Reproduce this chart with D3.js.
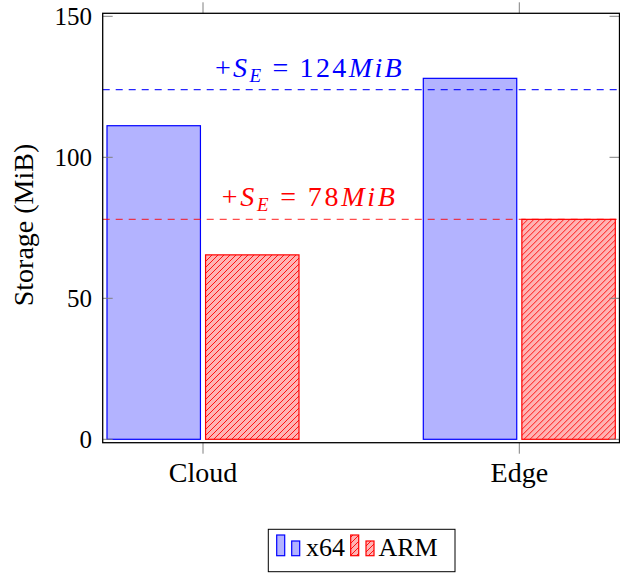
<!DOCTYPE html>
<html>
<head>
<meta charset="utf-8">
<script src="https://cdn.jsdelivr.net/npm/d3@7"></script>
<style>
  html, body { margin: 0; padding: 0; background: #fff; }
  svg { display: block; }
</style>
</head>
<body>
<svg id="chart" width="620" height="573"></svg>
<script>
// Storage footprint per deployment target and architecture
const categories = ["Cloud", "Edge"];
const series = ["x64", "ARM"];
const x64Values = [111.2, 128];
const armValues = [65.4, 78];
const yTicks = [0, 50, 100, 150];
const refLines = [
  { series: "x64", value: 124, label: "124", width: 186.7 },
  { series: "ARM", value: 78, label: "78", width: 173.3 }
];

const serif = "'Liberation Serif', 'DejaVu Serif', serif";
const colors = {
  x64: { stroke: "#0000ff", fill: "#b3b3ff" },
  ARM: { stroke: "#ff0000", fill: "#ffb3b3" }
};

const svg = d3.select("#chart");

// plot frame
const frame = { left: 102.7, right: 619.5, top: 13.3, bottom: 442.7 };

const y = d3.scaleLinear().domain([0, 150]).range([439.3, 16.3]);
const x = d3.scalePoint().domain(categories).range([203, 519.3]);
const inner = d3.scaleBand().domain(series).range([-96, 96]).paddingInner(0.052);

// hatch pattern for ARM bars
const defs = svg.append("defs");
const pat = defs.append("pattern")
  .attr("id", "hatch")
  .attr("patternUnits", "userSpaceOnUse")
  .attr("width", 6).attr("height", 6);
pat.append("rect").attr("width", 6).attr("height", 6).attr("fill", colors.ARM.fill);
pat.append("path")
  .attr("d", "M-1,1 L1,-1 M0,6 L6,0 M5,7 L7,5")
  .attr("stroke", colors.ARM.stroke)
  .attr("stroke-width", 0.9);

const data = categories.map((c, i) => ({
  cat: c,
  vals: [ { s: "x64", v: x64Values[i] }, { s: "ARM", v: armValues[i] } ]
}));

// bars
const groups = svg.append("g").selectAll("g")
  .data(data).join("g")
  .attr("transform", d => `translate(${x(d.cat)},0)`);

groups.selectAll("rect")
  .data(d => d.vals).join("rect")
  .attr("x", d => inner(d.s))
  .attr("width", inner.bandwidth())
  .attr("y", d => y(d.v))
  .attr("height", d => y(0) - y(d.v))
  .attr("fill", d => d.s === "ARM" ? "url(#hatch)" : colors[d.s].fill)
  .attr("stroke", d => colors[d.s].stroke)
  .attr("stroke-width", 1.2);

// reference lines
svg.append("g").selectAll("line")
  .data(refLines).join("line")
  .attr("x1", frame.left).attr("x2", frame.right)
  .attr("y1", d => y(d.value)).attr("y2", d => y(d.value))
  .attr("stroke", d => colors[d.series].stroke)
  .attr("stroke-opacity", d => d.series === "ARM" ? 0.7 : 0.85)
  .attr("stroke-width", 1.3)
  .attr("stroke-dasharray", "7,6");

// reference labels: +S_E = N MiB
const labels = svg.append("g").selectAll("text")
  .data(refLines).join("text")
  .attr("x", 308.3)
  .attr("y", d => y(d.value) - 13)
  .attr("text-anchor", "middle")
  .attr("textLength", d => d.width)
  .attr("lengthAdjust", "spacing")
  .style("font-family", serif)
  .style("font-size", "28px")
  .style("fill", d => colors[d.series].stroke);

labels.each(function(d) {
  const t = d3.select(this);
  t.append("tspan").style("font-family", serif).text("+");
  t.append("tspan").style("font-family", serif).style("font-style", "italic").text("S");
  t.append("tspan").style("font-family", serif).style("font-style", "italic")
    .style("font-size", "19px").attr("dy", 5).text("E");
  t.append("tspan").style("font-family", serif).attr("dy", -5).attr("dx", 9).text("=");
  t.append("tspan").style("font-family", serif).attr("dx", 9).text(d.label);
  t.append("tspan").style("font-family", serif).style("font-style", "italic").text("MiB");
});

// axis ticks
const tickColor = "#808080";
const ticks = svg.append("g").attr("stroke", tickColor).attr("stroke-width", 1);
yTicks.forEach(v => {
  ticks.append("line").attr("x1", frame.left).attr("x2", frame.left + 10)
    .attr("y1", y(v)).attr("y2", y(v));
  ticks.append("line").attr("x1", frame.right - 10).attr("x2", frame.right)
    .attr("y1", y(v)).attr("y2", y(v));
});
categories.forEach(c => {
  ticks.append("line").attr("x1", x(c)).attr("x2", x(c))
    .attr("y1", frame.bottom).attr("y2", frame.bottom + 11);
  ticks.append("line").attr("x1", x(c)).attr("x2", x(c))
    .attr("y1", frame.top).attr("y2", frame.top - 11);
});

// frame
svg.append("rect")
  .attr("x", frame.left).attr("y", frame.top)
  .attr("width", frame.right - frame.left)
  .attr("height", frame.bottom - frame.top)
  .attr("fill", "none").attr("stroke", "#000").attr("stroke-width", 1.3);

// y tick labels
svg.append("g").selectAll("text")
  .data(yTicks).join("text")
  .attr("x", 92).attr("y", d => y(d) + 9)
  .attr("text-anchor", "end")
  .style("font-family", serif)
  .style("font-size", "25px")
  .text(d => d);

// category labels
svg.append("g").selectAll("text")
  .data(categories).join("text")
  .attr("x", d => x(d)).attr("y", 482.3)
  .attr("text-anchor", "middle")
  .style("font-family", serif)
  .style("font-size", "28px")
  .text(d => d);

// y axis title
svg.append("text")
  .attr("transform", "translate(33,225) rotate(-90)")
  .attr("text-anchor", "middle")
  .style("font-family", serif)
  .style("font-size", "28px")
  .text("Storage (MiB)");

// legend
const legend = svg.append("g");
legend.append("rect")
  .attr("x", 268.3).attr("y", 529.3).attr("width", 186.7).attr("height", 42.4)
  .attr("fill", "#fff").attr("stroke", "#000").attr("stroke-width", 1);

const legendItems = [
  { s: "x64", icons: [276.7, 291.7], textX: 306 },
  { s: "ARM", icons: [350.7, 366], textX: 378.5 }
];
legendItems.forEach(item => {
  item.icons.forEach((ix, k) => {
    const top = k === 0 ? 535 : 541;
    legend.append("rect")
      .attr("x", ix).attr("y", top)
      .attr("width", 8).attr("height", 555.7 - top)
      .attr("fill", item.s === "ARM" ? "url(#hatch)" : colors[item.s].fill)
      .attr("stroke", colors[item.s].stroke)
      .attr("stroke-width", 1.2);
  });
  legend.append("text")
    .attr("x", item.textX).attr("y", 555.7)
    .style("font-family", serif)
    .style("font-size", "26px")
    .text(item.s);
});
</script>
</body>
</html>
